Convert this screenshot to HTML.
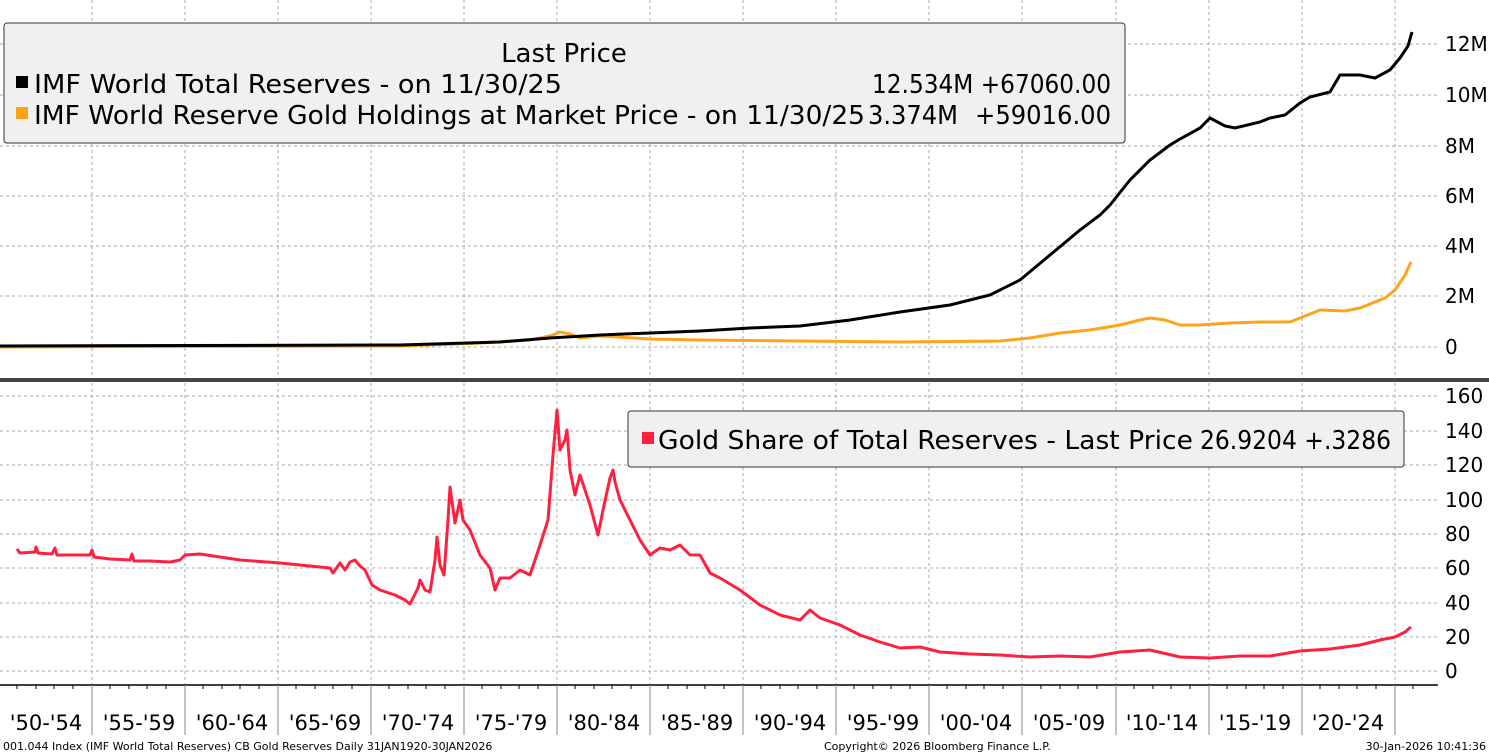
<!DOCTYPE html>
<html><head><meta charset="utf-8"><style>
html,body{margin:0;padding:0;background:#fff;}
svg{display:block;font-family:"DejaVu Sans","Liberation Sans",sans-serif;}
</style></head><body>
<svg width="1489" height="755" viewBox="0 0 1489 755" xmlns="http://www.w3.org/2000/svg">
<rect width="1489" height="755" fill="#fff"/>
<g stroke="#aaa" stroke-width="1" stroke-dasharray="3,3">
<line x1="92" y1="0" x2="92" y2="375"/><line x1="185" y1="0" x2="185" y2="375"/><line x1="278" y1="0" x2="278" y2="375"/><line x1="371" y1="0" x2="371" y2="375"/><line x1="464" y1="0" x2="464" y2="375"/><line x1="557" y1="0" x2="557" y2="375"/><line x1="650" y1="0" x2="650" y2="375"/><line x1="743" y1="0" x2="743" y2="375"/><line x1="836" y1="0" x2="836" y2="375"/><line x1="929" y1="0" x2="929" y2="375"/><line x1="1022" y1="0" x2="1022" y2="375"/><line x1="1116" y1="0" x2="1116" y2="375"/><line x1="1209" y1="0" x2="1209" y2="375"/><line x1="1302" y1="0" x2="1302" y2="375"/><line x1="1395" y1="0" x2="1395" y2="375"/>
<line x1="92" y1="383" x2="92" y2="685"/><line x1="185" y1="383" x2="185" y2="685"/><line x1="278" y1="383" x2="278" y2="685"/><line x1="371" y1="383" x2="371" y2="685"/><line x1="464" y1="383" x2="464" y2="685"/><line x1="557" y1="383" x2="557" y2="685"/><line x1="650" y1="383" x2="650" y2="685"/><line x1="743" y1="383" x2="743" y2="685"/><line x1="836" y1="383" x2="836" y2="685"/><line x1="929" y1="383" x2="929" y2="685"/><line x1="1022" y1="383" x2="1022" y2="685"/><line x1="1116" y1="383" x2="1116" y2="685"/><line x1="1209" y1="383" x2="1209" y2="685"/><line x1="1302" y1="383" x2="1302" y2="685"/><line x1="1395" y1="383" x2="1395" y2="685"/>
<line x1="0" y1="44" x2="1438" y2="44"/><line x1="0" y1="95" x2="1438" y2="95"/><line x1="0" y1="146" x2="1438" y2="146"/><line x1="0" y1="196" x2="1438" y2="196"/><line x1="0" y1="246" x2="1438" y2="246"/><line x1="0" y1="296" x2="1438" y2="296"/><line x1="0" y1="347" x2="1438" y2="347"/>
<line x1="0" y1="396" x2="1438" y2="396"/><line x1="0" y1="431" x2="1438" y2="431"/><line x1="0" y1="465" x2="1438" y2="465"/><line x1="0" y1="500" x2="1438" y2="500"/><line x1="0" y1="534" x2="1438" y2="534"/><line x1="0" y1="568" x2="1438" y2="568"/><line x1="0" y1="603" x2="1438" y2="603"/><line x1="0" y1="637" x2="1438" y2="637"/><line x1="0" y1="671" x2="1438" y2="671"/>
</g>
<rect x="0" y="378" width="1489" height="4" fill="#444"/>
<line x1="0" y1="685" x2="1438" y2="685" stroke="#000" stroke-width="1.5"/>
<g stroke="#000" stroke-width="1">
<line x1="17" y1="685" x2="17" y2="689"/><line x1="36" y1="685" x2="36" y2="689"/><line x1="54" y1="685" x2="54" y2="689"/><line x1="73" y1="685" x2="73" y2="689"/>
<line x1="110" y1="685" x2="110" y2="689"/><line x1="129" y1="685" x2="129" y2="689"/><line x1="147" y1="685" x2="147" y2="689"/><line x1="166" y1="685" x2="166" y2="689"/>
<line x1="203" y1="685" x2="203" y2="689"/><line x1="222" y1="685" x2="222" y2="689"/><line x1="240" y1="685" x2="240" y2="689"/><line x1="259" y1="685" x2="259" y2="689"/>
<line x1="296" y1="685" x2="296" y2="689"/><line x1="315" y1="685" x2="315" y2="689"/><line x1="333" y1="685" x2="333" y2="689"/><line x1="352" y1="685" x2="352" y2="689"/>
<line x1="389" y1="685" x2="389" y2="689"/><line x1="408" y1="685" x2="408" y2="689"/><line x1="426" y1="685" x2="426" y2="689"/><line x1="445" y1="685" x2="445" y2="689"/>
<line x1="482" y1="685" x2="482" y2="689"/><line x1="501" y1="685" x2="501" y2="689"/><line x1="519" y1="685" x2="519" y2="689"/><line x1="538" y1="685" x2="538" y2="689"/>
<line x1="575" y1="685" x2="575" y2="689"/><line x1="594" y1="685" x2="594" y2="689"/><line x1="612" y1="685" x2="612" y2="689"/><line x1="631" y1="685" x2="631" y2="689"/>
<line x1="668" y1="685" x2="668" y2="689"/><line x1="687" y1="685" x2="687" y2="689"/><line x1="705" y1="685" x2="705" y2="689"/><line x1="724" y1="685" x2="724" y2="689"/>
<line x1="761" y1="685" x2="761" y2="689"/><line x1="780" y1="685" x2="780" y2="689"/><line x1="798" y1="685" x2="798" y2="689"/><line x1="817" y1="685" x2="817" y2="689"/>
<line x1="854" y1="685" x2="854" y2="689"/><line x1="873" y1="685" x2="873" y2="689"/><line x1="891" y1="685" x2="891" y2="689"/><line x1="910" y1="685" x2="910" y2="689"/>
<line x1="947" y1="685" x2="947" y2="689"/><line x1="966" y1="685" x2="966" y2="689"/><line x1="984" y1="685" x2="984" y2="689"/><line x1="1003" y1="685" x2="1003" y2="689"/>
<line x1="1041" y1="685" x2="1041" y2="689"/><line x1="1060" y1="685" x2="1060" y2="689"/><line x1="1078" y1="685" x2="1078" y2="689"/><line x1="1097" y1="685" x2="1097" y2="689"/>
<line x1="1134" y1="685" x2="1134" y2="689"/><line x1="1153" y1="685" x2="1153" y2="689"/><line x1="1171" y1="685" x2="1171" y2="689"/><line x1="1190" y1="685" x2="1190" y2="689"/>
<line x1="1227" y1="685" x2="1227" y2="689"/><line x1="1246" y1="685" x2="1246" y2="689"/><line x1="1264" y1="685" x2="1264" y2="689"/><line x1="1283" y1="685" x2="1283" y2="689"/>
<line x1="1320" y1="685" x2="1320" y2="689"/><line x1="1339" y1="685" x2="1339" y2="689"/><line x1="1357" y1="685" x2="1357" y2="689"/><line x1="1376" y1="685" x2="1376" y2="689"/>
<line x1="1413" y1="685" x2="1413" y2="689"/>
</g>
<g stroke="#888" stroke-width="1">
<line x1="92" y1="685" x2="92" y2="735"/><line x1="185" y1="685" x2="185" y2="735"/><line x1="278" y1="685" x2="278" y2="735"/><line x1="371" y1="685" x2="371" y2="735"/><line x1="464" y1="685" x2="464" y2="735"/><line x1="557" y1="685" x2="557" y2="735"/><line x1="650" y1="685" x2="650" y2="735"/><line x1="743" y1="685" x2="743" y2="735"/><line x1="836" y1="685" x2="836" y2="735"/><line x1="929" y1="685" x2="929" y2="735"/><line x1="1022" y1="685" x2="1022" y2="735"/><line x1="1116" y1="685" x2="1116" y2="735"/><line x1="1209" y1="685" x2="1209" y2="735"/><line x1="1302" y1="685" x2="1302" y2="735"/><line x1="1395" y1="685" x2="1395" y2="735"/>
</g>
<g font-size="21" fill="#000" text-anchor="middle">
<text x="46" y="730">'50-'54</text><text x="139" y="730">'55-'59</text><text x="232" y="730">'60-'64</text><text x="325" y="730">'65-'69</text><text x="418" y="730">'70-'74</text><text x="511" y="730">'75-'79</text><text x="604" y="730">'80-'84</text><text x="697" y="730">'85-'89</text><text x="790" y="730">'90-'94</text><text x="883" y="730">'95-'99</text><text x="976" y="730">'00-'04</text><text x="1069" y="730">'05-'09</text><text x="1162" y="730">'10-'14</text><text x="1255" y="730">'15-'19</text><text x="1348" y="730">'20-'24</text>
</g>
<g font-size="20" fill="#000">
<text x="1445" y="51">12M</text><text x="1445" y="102">10M</text><text x="1445" y="153">8M</text><text x="1445" y="203">6M</text><text x="1445" y="253">4M</text><text x="1445" y="303">2M</text><text x="1445" y="354">0</text>
<text x="1445" y="403">160</text><text x="1445" y="438">140</text><text x="1445" y="472">120</text><text x="1445" y="507">100</text><text x="1445" y="541">80</text><text x="1445" y="575">60</text><text x="1445" y="610">40</text><text x="1445" y="644">20</text><text x="1445" y="678">0</text>
</g>
<polyline fill="none" stroke="#ffa31a" stroke-width="3" points="0,347 400,346 480,343 530,340 550,336 560,332 570,334 580,338 600,336 650,339 700,340 800,341 900,342 1000,341 1030,338 1060,333 1090,330 1120,325 1140,320 1150,318 1165,320 1180,325 1200,325 1230,323 1260,322 1290,322 1300,318 1320,310 1345,311 1360,308 1370,304 1385,298 1395,290 1405,275 1411,262"/>
<polyline fill="none" stroke="#000" stroke-width="3" points="0,346 400,345 500,342 550,338 600,335 700,331 750,328 800,326 850,320 900,312 950,305 990,295 1020,280 1050,255 1080,230 1100,215 1110,205 1130,180 1150,160 1170,145 1180,139 1200,128 1210,118 1225,126 1235,128 1260,122 1270,118 1285,115 1300,103 1310,97 1330,92 1340,75 1360,75 1375,78 1390,70 1400,58 1408,46 1412,32"/>
<polyline fill="none" stroke="#ff2040" stroke-width="3" stroke-linejoin="round" points="17,549 20,553 35,552 36,547 38,553 52,554 55,548 57,555 90,555 92,550 94,557 110,559 130,560 132,554 134,561 150,561 170,562 180,560 185,555 200,554 240,560 280,563 330,568 333,573 340,563 345,570 350,562 355,560 360,566 365,570 372,585 380,590 395,595 405,600 410,604 418,588 420,580 425,590 430,592 435,560 437,537 440,565 444,575 448,520 450,487 455,523 460,500 463,520 470,530 480,555 490,568 495,590 500,578 510,578 520,570 530,575 540,545 548,520 553,455 557,410 560,450 565,440 567,430 570,470 575,495 580,475 590,505 598,535 603,510 610,478 613,470 615,482 620,500 630,520 640,540 650,555 660,548 670,550 680,545 690,555 700,555 710,573 720,578 740,590 760,605 780,615 800,620 810,610 820,618 840,625 860,635 880,642 900,648 920,647 940,652 970,654 1000,655 1030,657 1060,656 1090,657 1120,652 1150,650 1180,657 1210,658 1240,656 1270,656 1300,651 1330,649 1360,645 1380,640 1395,637 1405,632 1411,627"/>
<rect x="4" y="23" width="1121" height="120" rx="3" fill="#f0f0f0" stroke="#333" stroke-width="1"/>
<g font-size="26" fill="#000">
<text x="564" y="62" text-anchor="middle">Last Price</text>
<rect x="16" y="76" width="12" height="12" fill="#000"/>
<text x="34" y="93" textLength="528" lengthAdjust="spacingAndGlyphs">IMF World Total Reserves -  on 11/30/25</text>
<text x="872" y="93" textLength="239" lengthAdjust="spacingAndGlyphs">12.534M +67060.00</text>
<rect x="16" y="107" width="12" height="12" fill="#ffa31a"/>
<text x="34" y="124" textLength="831" lengthAdjust="spacingAndGlyphs">IMF World Reserve Gold Holdings at Market Price -  on 11/30/25</text>
<text x="868" y="124" textLength="90" lengthAdjust="spacingAndGlyphs">3.374M</text>
<text x="975" y="124" textLength="136" lengthAdjust="spacingAndGlyphs">+59016.00</text>
</g>
<rect x="628" y="411" width="776" height="56" rx="3" fill="#f0f0f0" stroke="#333" stroke-width="1"/>
<rect x="642" y="432" width="12" height="12" fill="#ff2040"/>
<text x="658" y="449" font-size="26" fill="#000" textLength="535" lengthAdjust="spacingAndGlyphs">Gold Share of Total Reserves - Last Price</text>
<text x="1200" y="449" font-size="26" fill="#000" textLength="191" lengthAdjust="spacingAndGlyphs">26.9204 +.3286</text>
<g font-size="11" fill="#000">
<text x="3" y="750">001.044 Index (IMF World Total Reserves) CB Gold Reserves Daily 31JAN1920-30JAN2026</text>
<text x="824" y="750">Copyright© 2026 Bloomberg Finance L.P.</text>
<text x="1486" y="750" text-anchor="end">30-Jan-2026 10:41:36</text>
</g>
</svg>
</body></html>
